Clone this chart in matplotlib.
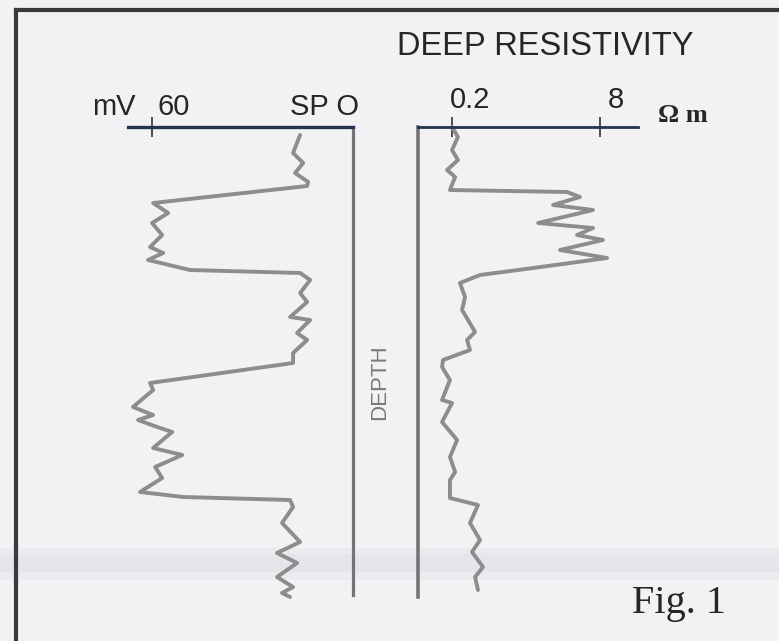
import matplotlib
matplotlib.use("Agg")
import matplotlib.pyplot as plt
from matplotlib.lines import Line2D
from matplotlib.patches import Rectangle

# ---------------- data ----------------
# SP curve: depth (arbitrary units, 0 = top of track) and SP deflection in mV
sp_depth = [8, 26, 36, 46, 55, 59, 76, 86, 96, 108, 120, 126, 133, 143, 146,
            153, 166, 175, 190, 193, 206, 213, 226, 236, 256, 263, 280, 288,
            293, 300, 305, 321, 328, 340, 351, 365, 370, 373, 380, 396, 415,
            426, 436, 450, 460, 466, 470]
sp_mv = [15.8, 17.9, 14.9, 17.3, 13.4, 13.7, 59.7, 55.2, 60.0, 57.0, 60.6,
         56.7, 61.2, 48.7, 15.8, 12.8, 15.8, 13.7, 18.8, 12.8, 16.7, 13.7,
         17.9, 17.9, 60.6, 59.7, 65.7, 59.7, 64.2, 58.5, 54.0, 59.7, 51.0,
         59.1, 57.0, 63.6, 50.7, 18.8, 17.9, 21.2, 15.8, 22.7, 16.7, 22.7,
         17.9, 21.2, 18.8]

# Deep resistivity curve: depth and resistivity in ohm-m
res_depth = [0, 10, 23, 33, 43, 50, 63, 65, 70, 78, 83, 96, 101, 108, 113,
             123, 131, 141, 148, 156, 170, 183, 193, 205, 213, 223, 233, 240,
             253, 273, 276, 295, 313, 330, 345, 353, 371, 378, 396, 413, 425,
             440, 450, 463]
res_ohm = [0.20, 0.232, 0.20, 0.232, 0.177, 0.216, 0.190, 3.51, 4.85, 2.48,
           6.71, 1.71, 6.71, 4.51, 8.61, 2.95, 9.52, 1.51, 0.402, 0.244,
           0.277, 0.257, 0.298, 0.355, 0.291, 0.313, 0.160, 0.156, 0.190,
           0.156, 0.20, 0.156, 0.227, 0.190, 0.216, 0.190, 0.190, 0.382,
           0.313, 0.402, 0.329, 0.433, 0.355, 0.382]

sp_ticks = [60]
sp_tick_labels = ["60"]
res_ticks = [0.2, 8]
res_tick_labels = ["0.2", "8"]

# ---------------- figure ----------------
W, H = 779, 641
fig = plt.figure(figsize=(W / 100, H / 100), dpi=100)
fig.patch.set_facecolor('#f2f2f5')


def fx(x):
    return x / W


def fy(y):
    return 1 - y / H


# faint paper fold shading
for y0, h, c in [(548, 6, '#ebebef'), (554, 18, '#e6e6ea'), (572, 8, '#ececf0')]:
    fig.add_artist(Rectangle((0, fy(y0 + h)), 1, h / H, transform=fig.transFigure,
                             facecolor=c, edgecolor='none', zorder=-5))

# border
fig.add_artist(Line2D([fx(16), fx(16)], [fy(10), fy(641)], color='#3a3a3a',
                      lw=3.0, transform=fig.transFigure))
fig.add_artist(Line2D([fx(16), fx(779)], [fy(10), fy(10)], color='#3a3a3a',
                      lw=3.0, transform=fig.transFigure))

curve_color = '#8d8d8d'
top_color = '#24344c'
track_color = '#747474'

# ---- SP track ----
top, bot = 127, 595
ax1 = fig.add_axes([fx(128), fy(bot), (353 - 128) / W, (bot - top) / H])
ax1.patch.set_alpha(0)
ax1.set_xlim(67.2, 0)
ax1.set_ylim((bot - top), 0)
for s in ['left', 'bottom']:
    ax1.spines[s].set_visible(False)
ax1.spines['top'].set_color(top_color)
ax1.spines['top'].set_linewidth(2.4)
ax1.spines['right'].set_color(track_color)
ax1.spines['right'].set_linewidth(2.3)
ax1.xaxis.tick_top()
ax1.set_xticks(sp_ticks)
ax1.set_xticklabels([])
ax1.tick_params(axis='x', direction='inout', length=14, width=1.2,
                color='#333333')
ax1.set_yticks([])
ax1.plot(sp_mv, sp_depth, color=curve_color, lw=2.8, solid_joinstyle='round',
         solid_capstyle='round', clip_on=False)

# ---- Resistivity track ----
bot2 = 597
ax2 = fig.add_axes([fx(418), fy(bot2), (638 - 418) / W, (bot2 - top) / H])
ax2.patch.set_alpha(0)
ax2.set_xscale('log')
ax2.set_xlim(0.0857, 20.6)
ax2.set_ylim((bot2 - top), 0)
for s in ['right', 'bottom']:
    ax2.spines[s].set_visible(False)
ax2.spines['top'].set_color(top_color)
ax2.spines['top'].set_linewidth(2.0)
ax2.spines['left'].set_color(track_color)
ax2.spines['left'].set_linewidth(2.6)
ax2.xaxis.tick_top()
ax2.set_xticks(res_ticks)
ax2.xaxis.set_minor_locator(matplotlib.ticker.NullLocator())
ax2.set_xticklabels([])
ax2.tick_params(axis='x', direction='inout', length=14, width=1.2,
                color='#333333')
ax2.set_yticks([])
ax2.plot(res_ohm, res_depth, color=curve_color, lw=2.8,
         solid_joinstyle='round', solid_capstyle='round', clip_on=False)

# ---------------- text ----------------
sans = 'Liberation Sans'
serif = 'Liberation Serif'
tc = '#262626'

fig.text(fx(397), fy(55), 'DEEP RESISTIVITY', family=sans, fontsize=23.5,
         color=tc, va='baseline', ha='left')
fig.text(fx(92), fy(115), 'mV', family=sans, fontsize=21, color=tc,
         va='baseline', ha='left')
# tick labels placed just right of their ticks
for v, lab in zip(sp_ticks, sp_tick_labels):
    ax1.annotate(lab, xy=(v, 1), xycoords=('data', 'axes fraction'),
                 xytext=(5 * 0.72, 12 * 0.72), textcoords='offset points',
                 family=sans, fontsize=21, color=tc, ha='left', va='baseline')
ax1.annotate('SP O', xy=(1, 1), xycoords='axes fraction',
             xytext=(-63 * 0.72, 12 * 0.72), textcoords='offset points',
             family=sans, fontsize=21, color=tc, ha='left', va='baseline')
for v, lab in zip(res_ticks, res_tick_labels):
    ax2.annotate(lab, xy=(v, 1), xycoords=('data', 'axes fraction'),
                 xytext=(-2 * 0.72 if lab == '0.2' else 8 * 0.72, 19 * 0.72),
                 textcoords='offset points', family=sans, fontsize=21,
                 color=tc, ha='left', va='baseline')
fig.text(fx(658), fy(122), 'Ω m', family=serif, fontsize=19,
         fontweight='bold', color=tc, va='baseline', ha='left')
fig.text(fx(380), fy(382), 'DEPTH', family=sans, fontsize=16, color='#7a7a7a',
         rotation=90, va='center', ha='center')
fig.text(fx(632), fy(613), 'Fig. 1', family=serif, fontsize=29, color=tc,
         va='baseline', ha='left')

fig.savefig('out.png', dpi=100, facecolor=fig.get_facecolor())
